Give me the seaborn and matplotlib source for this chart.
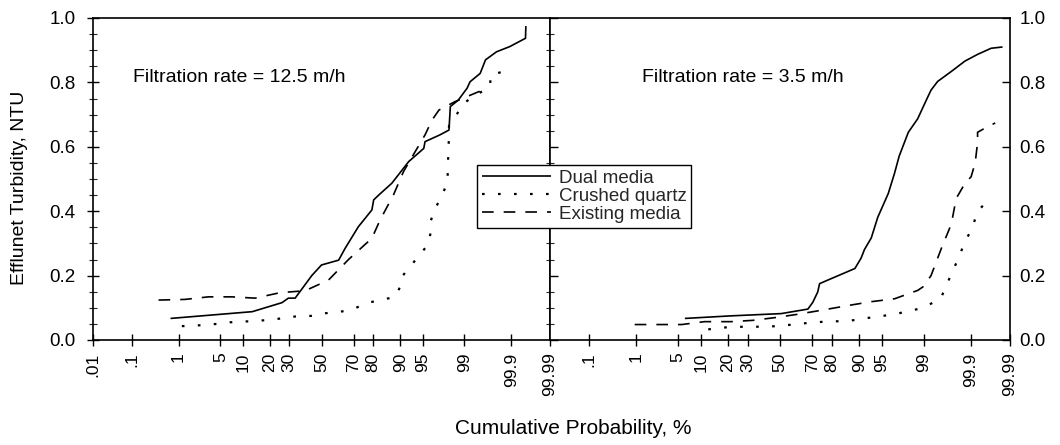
#!/usr/bin/env python3

# plot.py
#
# Cumulative probability plot of effluent turbidity for the three filter media,
# at the two filtration rates, on a normal probability axis.
from statistics import NormalDist

import matplotlib
matplotlib.use('Agg')
import matplotlib.pyplot as plt
import matplotlib.ticker as ticker
import numpy as np
import seaborn as sb

# Probability axis ticks, in percent
TICKS = [0.01, 0.1, 1, 5, 10, 20, 30, 50, 70, 80, 90, 95, 99, 99.9, 99.99]
TICK_LABELS = ['.01', '.1', '1', '5', '10', '20', '30', '50', '70', '80', '90', '95', '99', '99.9', '99.99']

# Filtration rate = 12.5 m/h
fast_dual_p = [0.7, 13, 26, 29.5, 33.4, 43.7, 50, 61, 65, 72.6, 79.4, 80.2, 82.4, 87.4, 92.2, 95.2,
               95.4, 97.3, 98.1, 98.2, 98.7, 99.11, 99.22, 99.51, 99.62, 99.78, 99.89, 99.955, 99.956]
fast_dual_t = [0.067, 0.088, 0.116, 0.13, 0.13, 0.2, 0.233, 0.248, 0.285, 0.352, 0.404, 0.435, 0.45,
               0.487, 0.554, 0.595, 0.616, 0.637, 0.652, 0.725, 0.745, 0.782, 0.802, 0.828, 0.87,
               0.895, 0.911, 0.937, 0.975]
fast_quartz_p = [1.15, 3.3, 6.8, 14, 22.7, 29.5, 43.7, 52.4, 67, 72.6, 77.8, 88.5, 90, 90.5, 95.8,
                 96.2, 96.2, 96.6, 97.6, 98.0, 98.0, 98.1, 98.1, 98.6, 98.9, 99.22, 99.7, 99.7, 99.84]
fast_quartz_t = [0.043, 0.047, 0.055, 0.059, 0.064, 0.072, 0.075, 0.083, 0.091, 0.103, 0.116, 0.134,
                 0.166, 0.197, 0.295, 0.331, 0.367, 0.398, 0.456, 0.492, 0.528, 0.634, 0.665, 0.699,
                 0.73, 0.75, 0.787, 0.823, 0.833]
fast_existing_p = [0.4, 1.3, 3.3, 7.2, 14, 25, 39.5, 54.5, 67, 79.4, 83, 87.9, 90.9, 95.4, 96.4, 97.2,
                   98.5, 99.47, 99.62]
fast_existing_t = [0.124, 0.126, 0.134, 0.134, 0.13, 0.147, 0.153, 0.186, 0.25, 0.316, 0.373, 0.45,
                   0.523, 0.637, 0.683, 0.714, 0.74, 0.771, 0.776]

# Filtration rate = 3.5 m/h
slow_dual_p = [6.2, 21.5, 50.8, 67.4, 70.2, 72.9, 73.9, 78, 88.7, 90.5, 91.4, 93, 94.3, 96, 96.8,
               97.3, 98.1, 98.7, 99.1, 99.27, 99.46, 99.72, 99.86, 99.93, 99.968, 99.984]
slow_dual_t = [0.067, 0.075, 0.082, 0.096, 0.117, 0.149, 0.175, 0.186, 0.222, 0.254, 0.281, 0.317,
               0.381, 0.455, 0.518, 0.571, 0.645, 0.687, 0.745, 0.776, 0.803, 0.834, 0.866, 0.887,
               0.906, 0.91]
slow_quartz_p = [12.3, 21.5, 34, 48.8, 63.3, 76.4, 86.4, 93, 96.8, 98.7, 99.25, 99.53, 99.71, 99.78,
                 99.83, 99.86, 99.9, 99.92, 99.938, 99.96]
slow_quartz_t = [0.033, 0.041, 0.041, 0.043, 0.051, 0.057, 0.059, 0.07, 0.08, 0.096, 0.112, 0.128,
                 0.2, 0.238, 0.275, 0.307, 0.339, 0.376, 0.407, 0.431]
slow_existing_p = [0.94, 2.4, 5.6, 11.1, 21.5, 33, 47.6, 61.4, 76.4, 86.4, 93, 96.8, 98.7, 98.96,
                   99.27, 99.55, 99.72, 99.78, 99.86, 99.9, 99.92, 99.93, 99.93, 99.957, 99.975]
slow_existing_t = [0.048, 0.048, 0.048, 0.057, 0.057, 0.061, 0.07, 0.08, 0.094, 0.107, 0.119, 0.128,
                   0.154, 0.165, 0.2, 0.286, 0.36, 0.439, 0.486, 0.507, 0.55, 0.613, 0.645, 0.66, 0.674]

SERIES = ['Dual media', 'Crushed quartz', 'Existing media']
STYLES = {'Dual media': (0, ()), 'Crushed quartz': (0, (1.2, 6)), 'Existing media': (0, (7, 6))}
WIDTHS = {'Dual media': 1.2, 'Crushed quartz': 1.6, 'Existing media': 1.2}


def probability_scale():
    dist = NormalDist()
    to_z = np.vectorize(lambda v: dist.inv_cdf(v / 100.0), otypes=[float])
    to_p = np.vectorize(lambda v: dist.cdf(v) * 100.0, otypes=[float])
    def forward(p):
        return to_z(np.clip(np.asarray(p, dtype=float), 1e-6, 100 - 1e-6))
    def inverse(z):
        return to_p(np.asarray(z, dtype=float))
    return forward, inverse


def plot_panel(axis, data, label, first):
    for name, (p, t) in zip(SERIES, data):
        sb.lineplot(x=p, y=t, ax=axis, sort=False, estimator=None, color='black',
                    linestyle=STYLES[name], linewidth=WIDTHS[name], label=name, legend=False)

    axis.set_xscale('function', functions=probability_scale())
    axis.set_xlim(0.01, 99.99)
    axis.set_ylim(0, 1.0)
    ticks = TICKS if first else TICKS[1:]
    labels = TICK_LABELS if first else TICK_LABELS[1:]
    axis.xaxis.set_major_locator(ticker.FixedLocator(ticks))
    axis.xaxis.set_minor_locator(ticker.NullLocator())
    axis.set_xticklabels(labels, rotation=90, fontsize=12.5)
    axis.tick_params(axis='x', direction='inout', length=8, width=1, pad=5, colors='black')

    axis.yaxis.set_major_locator(ticker.MultipleLocator(0.2))
    axis.yaxis.set_major_formatter(ticker.FormatStrFormatter('%.1f'))
    axis.yaxis.set_minor_locator(ticker.MultipleLocator(0.05))
    if first:
        axis.tick_params(axis='y', which='major', direction='inout', length=9, width=1, pad=8,
                         labelsize=13.5, colors='black')
        axis.tick_params(axis='y', which='minor', direction='inout', length=6, width=0.8)
    else:
        axis.tick_params(axis='y', which='major', left=True, right=True, labelleft=False, labelright=True,
                         direction='in', length=6, width=1, pad=7, labelsize=13.5, colors='black')
        axis.tick_params(axis='y', which='minor', left=True, right=False, direction='inout', length=6, width=0.8)

    for spine in axis.spines.values():
        spine.set_visible(True)
        spine.set_linewidth(1.2)
        spine.set_color('black')
    axis.set_xlabel('')
    axis.set_ylabel('')
    axis.text(0.087 if first else 0.2, 0.815, label, transform=axis.transAxes,
              fontsize=14, va='center', ha='left', color='black')


def main():
    sb.set_style('ticks')
    plt.rcParams['font.family'] = ['Liberation Sans', 'DejaVu Sans']

    figure = plt.figure(figsize=(10.6, 4.45), dpi=100)
    left = figure.add_axes([93 / 1060, 1 - 340 / 445, 457 / 1060, 322 / 445])
    right = figure.add_axes([550 / 1060, 1 - 340 / 445, 460 / 1060, 322 / 445])

    plot_panel(left, [(fast_dual_p, fast_dual_t), (fast_quartz_p, fast_quartz_t),
                      (fast_existing_p, fast_existing_t)], 'Filtration rate = 12.5 m/h', True)
    plot_panel(right, [(slow_dual_p, slow_dual_t), (slow_quartz_p, slow_quartz_t),
                       (slow_existing_p, slow_existing_t)], 'Filtration rate = 3.5 m/h', False)

    handles, labels = left.get_legend_handles_labels()
    legend = figure.legend(handles, labels, loc='upper left', bbox_to_anchor=(477 / 1060, 1 - 165 / 445),
                           frameon=True, fancybox=False, edgecolor='black', framealpha=1,
                           fontsize=13.5, handlelength=3.7, labelspacing=0.05, borderaxespad=0,
                           borderpad=0.25, handletextpad=0.4)
    legend.get_frame().set_linewidth(1.0)
    legend.set_zorder(10)

    figure.text(20 / 1060, 1 - 188 / 445, 'Efflunet Turbidity, NTU', rotation=90,
                ha='center', va='center', fontsize=14, color='black')
    figure.text(573 / 1060, 1 - 428 / 445, 'Cumulative Probability, %', ha='center', va='center',
                fontsize=15, color='black')

    plt.savefig('out.png', dpi=100)
    plt.close()


if __name__ == '__main__':
    main()
